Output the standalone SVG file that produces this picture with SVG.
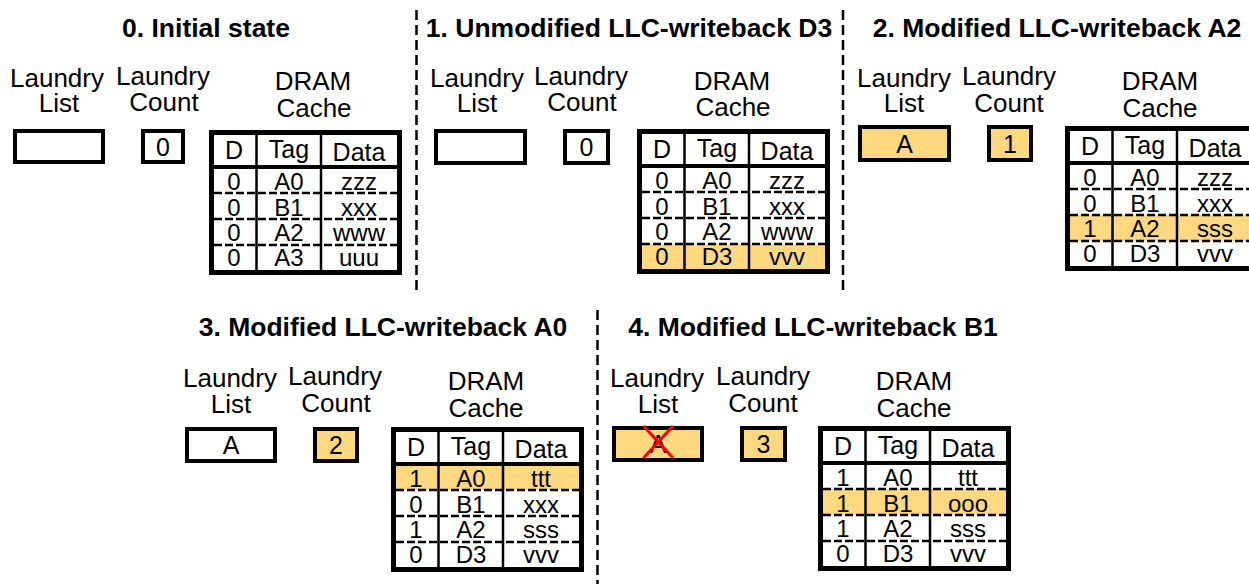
<svg xmlns="http://www.w3.org/2000/svg" width="1249" height="584" viewBox="0 0 1249 584">
  <style>
    text { font-family: "Liberation Sans", Arial, sans-serif; fill: #000; text-anchor: middle; }
    .title { font-size: 26.5px; font-weight: bold; }
    .label { font-size: 26px; }
    .boxtxt { font-size: 25px; }
    .hdr { font-size: 25px; }
    .cell { font-size: 24px; }
    .box { fill: #fff; stroke: #000; stroke-width: 4; }
    .box.hot { fill: #FFD87F; }
    .tbg { fill: #fff; }
    .hot-row { fill: #FFD87F; }
    .frame { fill: none; stroke: #000; stroke-width: 5; }
    .col { stroke: #000; stroke-width: 2.5; }
    .hline { stroke: #000; stroke-width: 4; }
    .rline { stroke: #000; stroke-width: 2.5; stroke-dasharray: 8 3; }
    .sep { stroke: #000; stroke-width: 2.5; stroke-dasharray: 10 5; fill: none; }
    .cross { stroke: #FF0000; stroke-width: 3; }
  </style>

  <defs>
    <!-- empty table grid: 193 x 145, header + four rows -->
    <g id="grid">
      <line class="col" x1="47.5" y1="5" x2="47.5" y2="140"/>
      <line class="col" x1="112" y1="5" x2="112" y2="140"/>
      <line class="rline" x1="5" y1="63" x2="188" y2="63"/>
      <line class="rline" x1="5" y1="89" x2="188" y2="89"/>
      <line class="rline" x1="5" y1="115" x2="188" y2="115"/>
      <line class="hline" x1="5" y1="37" x2="188" y2="37"/>
      <text class="hdr" x="25" y="29">D</text>
      <text class="hdr" x="80" y="28">Tag</text>
      <text class="hdr" x="150" y="31">Data</text>
      <rect class="frame" x="2.5" y="2.5" width="188" height="140"/>
    </g>
  </defs>

  <!-- panel separators -->
  <g id="separators">
    <line class="sep" x1="416.5" y1="10" x2="416.5" y2="290"/>
    <line class="sep" x1="843" y1="10" x2="843" y2="290"/>
    <line class="sep" x1="597.5" y1="310" x2="597.5" y2="584"/>
  </g>

  <!-- 0. Initial state -->
  <g id="panel0">
    <text class="title" x="206" y="37">0. Initial state</text>
    <g id="p0-list">
      <text class="label" x="57" y="87">Laundry</text>
      <text class="label" x="59" y="112">List</text>
      <rect class="box" x="15" y="131" width="88" height="31"/>
    </g>
    <g id="p0-count">
      <text class="label" x="163" y="85">Laundry</text>
      <text class="label" x="164" y="111">Count</text>
      <rect class="box" x="143" y="131" width="40" height="31"/>
      <text class="boxtxt" x="163" y="156">0</text>
    </g>
    <g id="p0-cache">
      <text class="label" x="313" y="90">DRAM</text>
      <text class="label" x="314" y="117">Cache</text>
      <g transform="translate(209,130)">
        <rect class="tbg" x="5" y="5" width="183" height="135"/>
        <use href="#grid"/>
        <text class="cell" x="25" y="60">0</text><text class="cell" x="80" y="60">A0</text><text class="cell" x="150" y="60">zzz</text>
        <text class="cell" x="25" y="86">0</text><text class="cell" x="80" y="86">B1</text><text class="cell" x="150" y="86">xxx</text>
        <text class="cell" x="25" y="111">0</text><text class="cell" x="80" y="111">A2</text><text class="cell" x="150" y="111">www</text>
        <text class="cell" x="25" y="136">0</text><text class="cell" x="80" y="136">A3</text><text class="cell" x="150" y="136">uuu</text>
      </g>
    </g>
  </g>

  <!-- 1. Unmodified LLC-writeback D3 -->
  <g id="panel1">
    <text class="title" x="629" y="37">1. Unmodified LLC-writeback D3</text>
    <g id="p1-list">
      <text class="label" x="477" y="87">Laundry</text>
      <text class="label" x="477" y="112">List</text>
      <rect class="box" x="436" y="131" width="89" height="32"/>
    </g>
    <g id="p1-count">
      <text class="label" x="581" y="85">Laundry</text>
      <text class="label" x="582" y="111">Count</text>
      <rect class="box" x="565" y="131" width="43" height="32"/>
      <text class="boxtxt" x="586.5" y="156">0</text>
    </g>
    <g id="p1-cache">
      <text class="label" x="732" y="90">DRAM</text>
      <text class="label" x="733" y="116">Cache</text>
      <g transform="translate(637,129)">
        <rect class="tbg" x="5" y="5" width="183" height="135"/>
        <rect class="hot-row" x="5" y="115" width="183" height="25"/>
        <use href="#grid"/>
        <text class="cell" x="25" y="60">0</text><text class="cell" x="80" y="60">A0</text><text class="cell" x="150" y="60">zzz</text>
        <text class="cell" x="25" y="86">0</text><text class="cell" x="80" y="86">B1</text><text class="cell" x="150" y="86">xxx</text>
        <text class="cell" x="25" y="111">0</text><text class="cell" x="80" y="111">A2</text><text class="cell" x="150" y="111">www</text>
        <text class="cell" x="25" y="136">0</text><text class="cell" x="80" y="136">D3</text><text class="cell" x="150" y="136">vvv</text>
      </g>
    </g>
  </g>

  <!-- 2. Modified LLC-writeback A2 -->
  <g id="panel2">
    <text class="title" x="1057" y="37">2. Modified LLC-writeback A2</text>
    <g id="p2-list">
      <text class="label" x="904" y="87">Laundry</text>
      <text class="label" x="904" y="112">List</text>
      <rect class="box hot" x="860" y="127" width="89" height="33"/>
      <text class="boxtxt" x="904.5" y="153">A</text>
    </g>
    <g id="p2-count">
      <text class="label" x="1009" y="85">Laundry</text>
      <text class="label" x="1009" y="112">Count</text>
      <rect class="box hot" x="989" y="127" width="42" height="33"/>
      <text class="boxtxt" x="1010" y="153">1</text>
    </g>
    <g id="p2-cache">
      <text class="label" x="1160" y="90">DRAM</text>
      <text class="label" x="1160" y="117">Cache</text>
      <g transform="translate(1065,126)">
        <rect class="tbg" x="5" y="5" width="183" height="135"/>
        <rect class="hot-row" x="5" y="89" width="183" height="26"/>
        <use href="#grid"/>
        <text class="cell" x="25" y="60">0</text><text class="cell" x="80" y="60">A0</text><text class="cell" x="150" y="60">zzz</text>
        <text class="cell" x="25" y="86">0</text><text class="cell" x="80" y="86">B1</text><text class="cell" x="150" y="86">xxx</text>
        <text class="cell" x="25" y="111">1</text><text class="cell" x="80" y="111">A2</text><text class="cell" x="150" y="111">sss</text>
        <text class="cell" x="25" y="136">0</text><text class="cell" x="80" y="136">D3</text><text class="cell" x="150" y="136">vvv</text>
      </g>
    </g>
  </g>

  <!-- 3. Modified LLC-writeback A0 -->
  <g id="panel3">
    <text class="title" x="383" y="336">3. Modified LLC-writeback A0</text>
    <g id="p3-list">
      <text class="label" x="230" y="387">Laundry</text>
      <text class="label" x="231" y="413">List</text>
      <rect class="box" x="187" y="429" width="88" height="32"/>
      <text class="boxtxt" x="231" y="454">A</text>
    </g>
    <g id="p3-count">
      <text class="label" x="335" y="385">Laundry</text>
      <text class="label" x="336" y="412">Count</text>
      <rect class="box hot" x="315" y="429" width="42" height="32"/>
      <text class="boxtxt" x="336" y="454">2</text>
    </g>
    <g id="p3-cache">
      <text class="label" x="486" y="390">DRAM</text>
      <text class="label" x="486" y="417">Cache</text>
      <g transform="translate(391,427)">
        <rect class="tbg" x="5" y="5" width="183" height="135"/>
        <rect class="hot-row" x="5" y="39" width="183" height="24"/>
        <use href="#grid"/>
        <text class="cell" x="25" y="60">1</text><text class="cell" x="80" y="60">A0</text><text class="cell" x="150" y="60">ttt</text>
        <text class="cell" x="25" y="86">0</text><text class="cell" x="80" y="86">B1</text><text class="cell" x="150" y="86">xxx</text>
        <text class="cell" x="25" y="111">1</text><text class="cell" x="80" y="111">A2</text><text class="cell" x="150" y="111">sss</text>
        <text class="cell" x="25" y="136">0</text><text class="cell" x="80" y="136">D3</text><text class="cell" x="150" y="136">vvv</text>
      </g>
    </g>
  </g>

  <!-- 4. Modified LLC-writeback B1 -->
  <g id="panel4">
    <text class="title" x="813" y="336">4. Modified LLC-writeback B1</text>
    <g id="p4-list">
      <text class="label" x="657" y="387">Laundry</text>
      <text class="label" x="658" y="413">List</text>
      <rect class="box hot" x="614" y="428" width="88" height="32"/>
      <text class="boxtxt" x="658" y="453">A</text>
      <line class="cross" x1="643.5" y1="426" x2="673" y2="458"/>
      <line class="cross" x1="673" y1="426" x2="643.5" y2="458"/>
    </g>
    <g id="p4-count">
      <text class="label" x="763" y="385">Laundry</text>
      <text class="label" x="763" y="412">Count</text>
      <rect class="box hot" x="742" y="428" width="43" height="32"/>
      <text class="boxtxt" x="763.5" y="453">3</text>
    </g>
    <g id="p4-cache">
      <text class="label" x="914" y="390">DRAM</text>
      <text class="label" x="914" y="417">Cache</text>
      <g transform="translate(818,426)">
        <rect class="tbg" x="5" y="5" width="183" height="135"/>
        <rect class="hot-row" x="5" y="63" width="183" height="26"/>
        <use href="#grid"/>
        <text class="cell" x="25" y="60">1</text><text class="cell" x="80" y="60">A0</text><text class="cell" x="150" y="60">ttt</text>
        <text class="cell" x="25" y="86">1</text><text class="cell" x="80" y="86">B1</text><text class="cell" x="150" y="86">ooo</text>
        <text class="cell" x="25" y="111">1</text><text class="cell" x="80" y="111">A2</text><text class="cell" x="150" y="111">sss</text>
        <text class="cell" x="25" y="136">0</text><text class="cell" x="80" y="136">D3</text><text class="cell" x="150" y="136">vvv</text>
      </g>
    </g>
  </g>
</svg>
